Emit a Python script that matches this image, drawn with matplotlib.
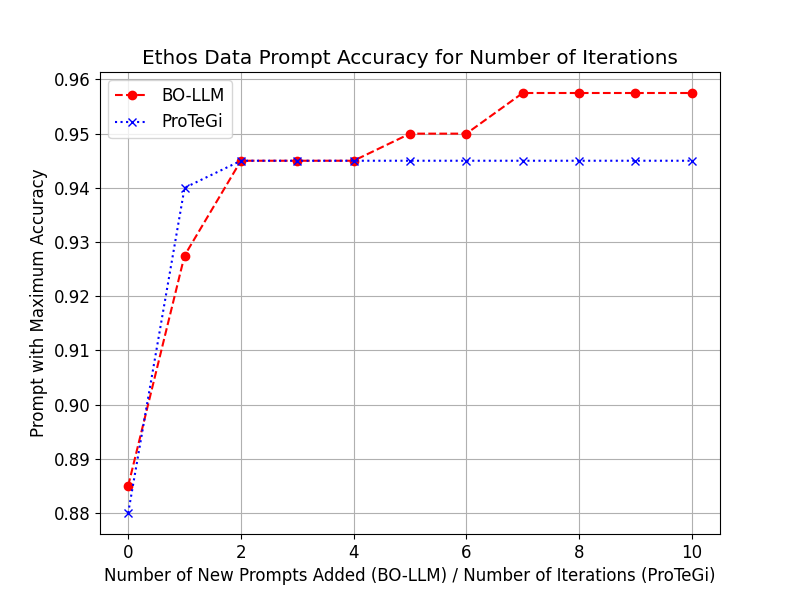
import matplotlib
matplotlib.use('Agg')
import matplotlib.pyplot as plt

iterations = list(range(11))
bo_llm = [0.885, 0.9275, 0.945, 0.945, 0.945, 0.95, 0.95, 0.9575, 0.9575, 0.9575, 0.9575]
protegi = [0.88, 0.94, 0.945, 0.945, 0.945, 0.945, 0.945, 0.945, 0.945, 0.945, 0.945]

plt.rcParams['font.size'] = 12

fig, ax = plt.subplots(figsize=(8, 6), dpi=100)
ax.plot(iterations, bo_llm, 'r--', marker='o', label='BO-LLM')
ax.plot(iterations, protegi, 'b:', marker='x', label='ProTeGi')
ax.set_xlabel('Number of New Prompts Added (BO-LLM) / Number of Iterations (ProTeGi)')
ax.set_ylabel('Prompt with Maximum Accuracy')
ax.set_title('Ethos Data Prompt Accuracy for Number of Iterations')
ax.grid(True)
ax.legend(loc='upper left')
fig.savefig('out.png')
